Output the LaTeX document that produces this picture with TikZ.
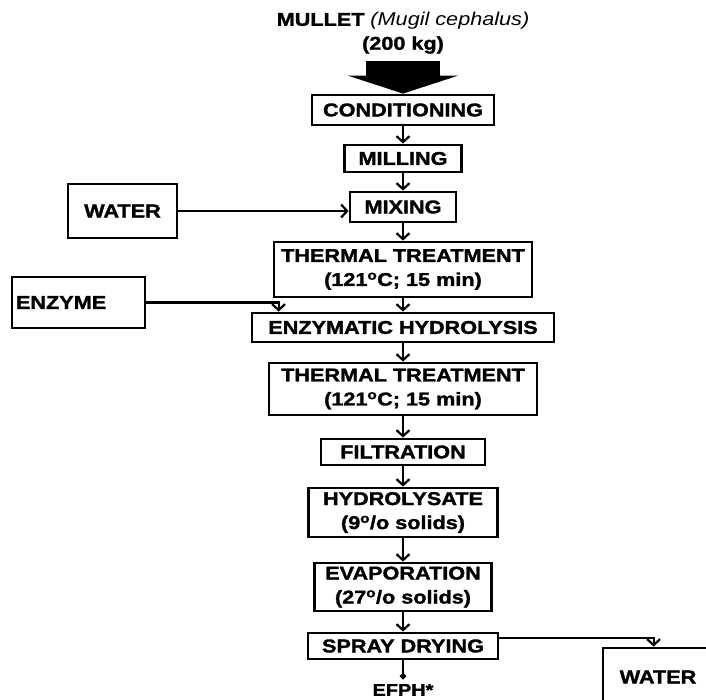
\documentclass[tikz,border=0pt]{standalone}
\usepackage{fontspec}
\setmainfont{Liberation Sans}[FakeStretch=1.17,BoldFeatures={FakeBold=1.6}]
\usetikzlibrary{arrows.meta}

\begin{document}
\begin{tikzpicture}[x=1pt,y=-1pt,->,>={Straight Barb[length=6pt,width=13pt]},line width=2.2pt]
       \tikzstyle{every node}=[font=\fontsize{18.5}{24}\selectfont\bfseries,inner sep=0pt,align=center]
       \tikzstyle{box}=[draw,line width=2.8pt]
       \useasboundingbox (0,0) rectangle (706,700);

       \node (S) at (403,21) {MULLET {\mdseries\itshape (Mugil cephalus)}};
       \node (T) at (403,45) {(200 kg)};

       \node[box,minimum width=182pt,minimum height=30pt] (A) at (403,110)   {CONDITIONING};
       \node[box,minimum width=117pt,minimum height=27pt] (B) at (403,158.5) {MILLING};
       \node[box,minimum width=106pt,minimum height=30pt] (C) at (403,207)   {MIXING};
       \node[box,minimum width=258pt,minimum height=55pt] (D) at (403,269.5) {THERMAL TREATMENT\\(121\textsuperscript{o}C; 15 min)};
       \node[box,minimum width=302pt,minimum height=29pt] (E) at (403,327.5) {ENZYMATIC HYDROLYSIS};
       \node[box,minimum width=268pt,minimum height=52pt] (F) at (403,389)   {THERMAL TREATMENT\\(121\textsuperscript{o}C; 15 min)};
       \node[box,minimum width=164pt,minimum height=26pt] (G) at (403,452)   {FILTRATION};
       \node[box,minimum width=189pt,minimum height=49pt] (H) at (403,512.5) {HYDROLYSATE\\(9\textsuperscript{o}/o solids)};
       \node[box,minimum width=177pt,minimum height=48pt] (I) at (403,587)   {EVAPORATION\\(27\textsuperscript{o}/o solids)};
       \node[box,minimum width=190pt,minimum height=26pt] (J) at (403,646)   {SPRAY DRYING};
       \node[font=\fontsize{17}{20}\selectfont\bfseries] (K) at (403,690) {EFPH*};

       \node[box,minimum width=109pt,minimum height=54pt] (L) at (122.5,211) {WATER};
       \node[box,text width=125pt,inner xsep=4pt,align=left,minimum height=51pt] (M) at (78.5,302.5) {ENZYME};
       \node[box,minimum width=110pt,minimum height=58pt] (P) at (658,677)   {WATER};

       % raw fish in
       \draw[-{Triangle[length=18pt,width=110pt]},line width=74pt,shorten <=6pt] (T) -- (A);

       \path (A) edge (B)
             (B) edge (C)
             (C) edge (D)
             (D) edge (E)
             (E) edge (F)
             (F) edge (G)
             (G) edge (H)
             (H) edge (I)
             (I) edge (J);

       % side streams
       \draw (L.east) -- (L.east -| C.west);
       \draw (M.east) -| ([xshift=28pt]E.north west);
       \draw ([yshift=8pt]J.east) -| ([xshift=52pt]P.north west);
       \draw[-{Circle[length=6pt]},shorten >=4pt] (J) -- (K.north);
\end{tikzpicture}
\end{document}
